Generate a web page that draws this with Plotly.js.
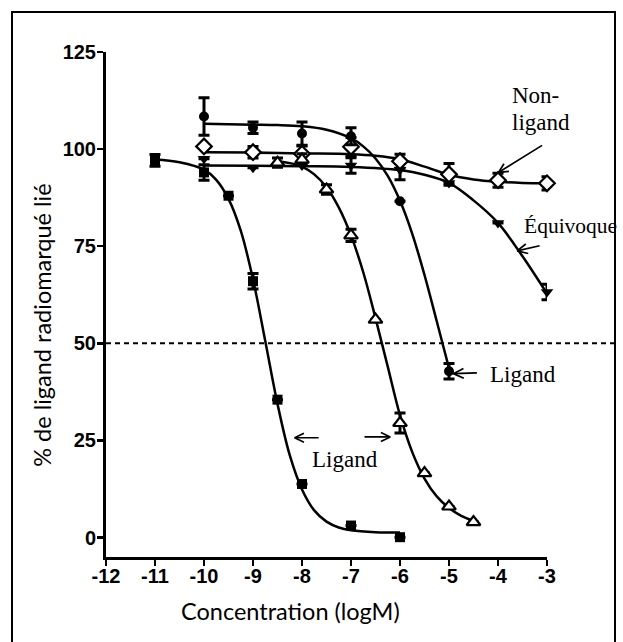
<!DOCTYPE html>
<html>
<head>
<meta charset="utf-8">
<script src="https://cdn.plot.ly/plotly-3.0.1.min.js"></script>
<style>
  html, body { margin: 0; padding: 0; background: #fff; }
  #chart { width: 623px; height: 642px; }
  #frame { position: absolute; left: 11px; top: 11px; width: 601px; height: 650px;
           border: 2px solid #000; pointer-events: none; }
</style>
</head>
<body>
<div id="chart"></div>
<div id="frame"></div>
<script>
// ---------- data ----------
const xTickVals = [-12, -11, -10, -9, -8, -7, -6, -5, -4, -3];
const xTickText = ['-12', '-11', '-10', '-9', '-8', '-7', '-6', '-5', '-4', '-3'];
const yTickVals = [0, 25, 50, 75, 100, 125];
const yTickText = ['0', '25', '50', '75', '100', '125'];

// filled squares (Ligand, left curve)
const squareX   = [-11, -10, -9.5, -9, -8.5, -8, -7, -6];
const squareY   = [97.1, 94.0, 88.0, 66.0, 35.5, 13.8, 3.1, 0.1];
const squareErr = [1.5, 2.0, 0, 2.0, 0, 0, 0, 0];
const squareFitX = [-11, -10.5, -10, -9.75, -9.5, -9.25, -9, -8.75, -8.5, -8.25, -8, -7.75, -7.5, -7.25, -7, -6.5, -6];
const squareFitY = [97.3, 96.6, 94.7, 92.1, 87.2, 79.0, 66.5, 50.6, 34.4, 21.2, 12.4, 7.0, 4.1, 2.6, 1.9, 1.4, 1.3];

// open triangles (Ligand, middle curve)
const triX   = [-8.5, -8, -7.5, -7, -6.5, -6, -5.5, -5, -4.5];
const triY   = [96.5, 97.3, 89.6, 77.8, 56.1, 29.5, 16.6, 8.0, 4.0];
const triErr = [1.2, 1.5, 1.2, 1.6, 0, 2.6, 0, 0, 0];
const triFitX = [-8.5, -8.25, -8, -7.75, -7.5, -7.25, -7, -6.75, -6.5, -6.25, -6, -5.75, -5.5, -5.25, -5, -4.75, -4.5];
const triFitY = [96.8, 96.4, 95.5, 93.5, 90.2, 85.0, 77.8, 68.3, 56.5, 44.0, 31.5, 22.0, 15.2, 10.6, 7.6, 5.6, 4.3];

// filled circles (Ligand, right curve)
const circleX   = [-10, -9, -8, -7, -6, -5];
const circleY   = [108.4, 105.5, 104.0, 103.3, 86.6, 42.8];
const circleErr = [4.8, 1.5, 3.0, 2.2, 0, 2.0];
const circleFitX = [-10, -9.5, -9, -8.5, -8, -7.5, -7, -6.75, -6.5, -6.25, -6, -5.75, -5.5, -5.25, -5];
const circleFitY = [106.5, 106.4, 106.3, 106.2, 105.9, 105.0, 102.8, 100.7, 97.6, 93.1, 86.7, 78.2, 67.6, 55.7, 43.6];

// open diamonds (Non-ligand)
const diamondX   = [-10, -9, -8, -7, -6, -5, -4, -3];
const diamondY   = [100.7, 99.2, 98.8, 100.6, 96.9, 93.5, 92.0, 91.2];
const diamondErr = [0, 1.5, 2.0, 2.4, 1.8, 2.8, 1.8, 1.7];
const diamondFitX = [-10, -9, -8, -7, -6.5, -6, -5.5, -5, -4.5, -4, -3.5, -3];
const diamondFitY = [99.2, 99.1, 98.9, 98.7, 98.3, 97.4, 95.5, 93.4, 92.2, 91.6, 91.3, 91.2];

// filled down-triangles (Équivoque)
const downX   = [-10, -9, -8, -7, -6, -5, -4, -3];
const downY   = [97.5, 95.2, 95.8, 95.8, 94.7, 91.3, 81.0, 63.2];
const downErr = [0, 0, 0, 2.0, 2.6, 0, 0, 2.0];
const downFitX = [-10, -9, -8, -7, -6, -5.5, -5, -4.5, -4, -3.5, -3];
const downFitY = [95.8, 95.7, 95.6, 95.4, 94.6, 93.4, 91.3, 86.8, 81.0, 72.4, 62.8];

const halfLine = 50;

// ---------- traces ----------
function fit(x, y) {
  return { x: x, y: y, type: 'scatter', mode: 'lines', hoverinfo: 'skip',
           line: { color: '#000', width: 2.5, shape: 'spline', smoothing: 1 }, showlegend: false };
}
function pts(x, y, err, symbol, size, open) {
  return {
    x: x, y: y, type: 'scatter', mode: 'markers', showlegend: false, cliponaxis: false,
    marker: { symbol: symbol, size: size, color: open ? '#fff' : '#000',
              line: { color: '#000', width: open ? 2.2 : 0 } },
    error_y: { type: 'data', array: err, visible: true, color: '#000', thickness: 3, width: 5.5 }
  };
}

const data = [
  fit(squareFitX, squareFitY),
  fit(triFitX, triFitY),
  fit(circleFitX, circleFitY),
  fit(diamondFitX, diamondFitY),
  fit(downFitX, downFitY),
  pts(downX, downY, downErr, 'triangle-down', 11, false),
  pts(diamondX, diamondY, diamondErr, 'diamond', 12, true),
  pts(circleX, circleY, circleErr, 'circle', 10, false),
  pts(triX, triY, triErr, 'triangle-up', 12, true),
  pts(squareX, squareY, squareErr, 'square', 10, false)
];

const serif = { family: 'Liberation Serif, Times New Roman, serif', size: 23, color: '#000' };
const titleFont = { family: 'Lato, Open Sans, sans-serif', size: 23.5, color: '#000' };
const tickFont = { family: 'Liberation Sans, Arial, sans-serif', size: 20, color: '#000', weight: 'bold' };
const bold = s => '<b>' + s + '</b>';

// open "V" arrows: shaft plus two arms, drawn as annotation lines
const PX_PER_X = 441 / 9, PX_PER_Y = 505 / 130;
function openArrow(hx, hy, tx, ty, arm) {
  const dx = (tx - hx) * PX_PER_X, dy = -(ty - hy) * PX_PER_Y;
  const len = Math.hypot(dx, dy), ux = dx / len, uy = dy / len;
  const out = [{ x: hx, y: hy, ax: dx, ay: dy, xref: 'x', yref: 'y', text: '', showarrow: true,
                 arrowhead: 0, arrowwidth: 1.7, arrowcolor: '#000', standoff: 0, startstandoff: 0 }];
  [0.45, -0.45].forEach(a => {
    const c = Math.cos(a), s = Math.sin(a);
    out.push({ x: hx, y: hy, ax: arm * (ux * c - uy * s), ay: arm * (ux * s + uy * c),
               xref: 'x', yref: 'y', text: '', showarrow: true, arrowhead: 0,
               arrowwidth: 1.7, arrowcolor: '#000', standoff: 0, startstandoff: 0 });
  });
  return out;
}

const layout = {
  width: 623, height: 642,
  margin: { l: 106, r: 76, t: 52, b: 85 },
  paper_bgcolor: '#fff', plot_bgcolor: '#fff',
  showlegend: false,
  xaxis: {
    range: [-12, -3], tickmode: 'array', tickvals: xTickVals, ticktext: xTickText.map(bold),
    showgrid: false, zeroline: false, showline: true, linecolor: '#000', linewidth: 3,
    ticks: 'outside', ticklen: 6, tickwidth: 2.5, tickcolor: '#000', tickfont: tickFont,
    ticklabelstandoff: -7
  },
  yaxis: {
    range: [-5, 125], tickmode: 'array', tickvals: yTickVals, ticktext: yTickText.map(bold),
    showgrid: false, zeroline: false, showline: true, linecolor: '#000', linewidth: 3,
    ticks: 'outside', ticklen: 6, tickwidth: 2.5, tickcolor: '#000', tickfont: tickFont,
    ticklabelstandoff: -3
  },
  shapes: [
    { type: 'line', xref: 'paper', yref: 'y', x0: 0, x1: 1.155, y0: halfLine, y1: halfLine,
      line: { color: '#000', width: 2, dash: '5px,4px' } }
  ],
  annotations: [
    { xref: 'paper', yref: 'paper', x: 0.4195, y: -0.106, text: 'Concentration (logM)',
      showarrow: false, font: titleFont, xanchor: 'center', yanchor: 'middle' },
    { xref: 'paper', yref: 'paper', x: -0.145, y: 0.458, text: '% de ligand radiomarqué lié',
      showarrow: false, font: titleFont, textangle: -90, xanchor: 'center', yanchor: 'middle' },
    { xref: 'x', yref: 'y', x: -3.75, y: 113.8, text: 'Non-', showarrow: false, font: serif, xanchor: 'left', yanchor: 'middle' },
    { xref: 'x', yref: 'y', x: -3.75, y: 106.8, text: 'ligand', showarrow: false, font: serif, xanchor: 'left', yanchor: 'middle' },
    { xref: 'x', yref: 'y', x: -3.52, y: 80.3, text: 'Équivoque', showarrow: false,
      font: { family: serif.family, size: 21.5, color: '#000' }, xanchor: 'left', yanchor: 'middle' },
    { xref: 'x', yref: 'y', x: -4.2, y: 42.0, text: 'Ligand', showarrow: false, font: serif, xanchor: 'left', yanchor: 'middle' },
    { xref: 'x', yref: 'y', x: -7.84, y: 20.0, text: 'Ligand', showarrow: false, font: serif, xanchor: 'left', yanchor: 'middle' }
  ].concat(
    openArrow(-3.99, 94.0, -3.07, 101.2, 12),
    openArrow(-3.61, 73.8, -3.12, 75.2, 13),
    openArrow(-4.91, 42.2, -4.40, 42.4, 13),
    openArrow(-8.15, 25.7, -7.63, 25.7, 12),
    openArrow(-6.20, 25.9, -6.755, 25.9, 12)
  )
};

Plotly.newPlot('chart', data, layout, { displayModeBar: false, staticPlot: true });
</script>
</body>
</html>
